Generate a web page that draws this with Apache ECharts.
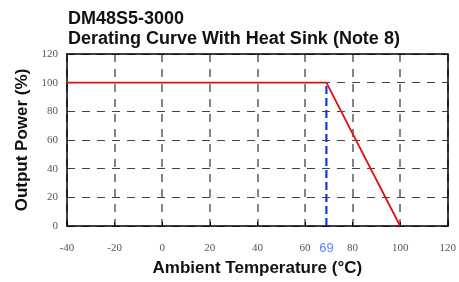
<!DOCTYPE html>
<html>
<head>
<meta charset="utf-8">
<script src="https://cdn.jsdelivr.net/npm/echarts@6/dist/echarts.min.js"></script>
<style>
  html, body { margin: 0; padding: 0; background: #fff; }
  #main { width: 459px; height: 282px; }
</style>
</head>
<body>
<div id="main"></div>
<script>
// 降额曲线数据
var curveTemp = [-40, 69, 100];
var curvePower = [100, 100, 0];
var markTemp = 69;       // 蓝色虚线位置
var markPower = [0, 100];
var xTicks = { min: -40, max: 120, step: 20 };
var yTicks = { min: 0, max: 120, step: 20 };

var chart = echarts.init(document.getElementById('main'));

var curveData = curveTemp.map(function (t, i) { return [t, curvePower[i]]; });
var markData = markPower.map(function (p) { return [markTemp, p]; });

var tickFont = { color: '#555', fontFamily: 'Liberation Serif', fontSize: 11 };
var solidAxis = { onZero: false, lineStyle: { color: '#000', width: 1.5 } };

var option = {
    animation: false,
    title: {
        text: 'DM48S5-3000\nDerating Curve With Heat Sink (Note 8)',
        left: 63,
        top: 4,
        textStyle: { fontFamily: 'Liberation Sans', fontWeight: 'bold', fontSize: 18, lineHeight: 20, color: '#111' }
    },
    grid: { left: 67, right: 8, top: 54, bottom: 54 },
    xAxis: [{
        type: 'value',
        min: xTicks.min, max: xTicks.max, interval: xTicks.step,
        name: 'Ambient Temperature (°C)',
        nameLocation: 'middle',
        nameGap: 34,
        nameTextStyle: { fontFamily: 'Liberation Sans', fontWeight: 'bold', fontSize: 17, color: '#111' },
        axisLine: solidAxis,
        axisTick: { show: true, inside: true, length: 4, lineStyle: { color: '#000' } },
        axisLabel: Object.assign({ margin: 17 }, tickFont),
        splitLine: { show: true, lineStyle: { color: '#666', type: [8, 7], width: 1.6 } }
    }, {
        type: 'value', position: 'top',
        min: xTicks.min, max: xTicks.max, interval: xTicks.step,
        axisLine: Object.assign({ show: true }, solidAxis),
        axisTick: { show: false }, axisLabel: { show: false }, splitLine: { show: false }
    }],
    yAxis: [{
        type: 'value',
        min: yTicks.min, max: yTicks.max, interval: yTicks.step,
        name: 'Output Power (%)',
        nameLocation: 'middle',
        nameGap: 35,
        nameTextStyle: { fontFamily: 'Liberation Sans', fontWeight: 'bold', fontSize: 17, color: '#111' },
        axisLine: Object.assign({ show: true }, solidAxis),
        axisTick: { show: false },
        axisLabel: Object.assign({ margin: 9 }, tickFont),
        splitLine: { show: true, lineStyle: { color: '#444', type: [8, 7], width: 1.2 } }
    }, {
        type: 'value', position: 'right',
        min: yTicks.min, max: yTicks.max, interval: yTicks.step,
        axisLine: Object.assign({ show: true }, solidAxis),
        axisTick: { show: false }, axisLabel: { show: false }, splitLine: { show: false }
    }],
    series: [{
        type: 'line',
        data: markData,
        symbol: 'none',
        lineStyle: { color: '#1133ee', width: 2.2, type: [8, 4] },
        z: 3
    }, {
        type: 'line',
        data: curveData,
        symbol: 'none',
        lineStyle: { color: '#e01010', width: 1.8 },
        z: 4
    }, {
        type: 'scatter',
        data: [[markTemp, 0]],
        symbolSize: 0,
        label: {
            show: true,
            position: 'bottom',
            distance: 16,
            formatter: String(markTemp),
            color: '#3366ff',
            fontFamily: 'Liberation Sans',
            fontSize: 13
        },
        z: 5
    }]
};

chart.setOption(option);
</script>
</body>
</html>
